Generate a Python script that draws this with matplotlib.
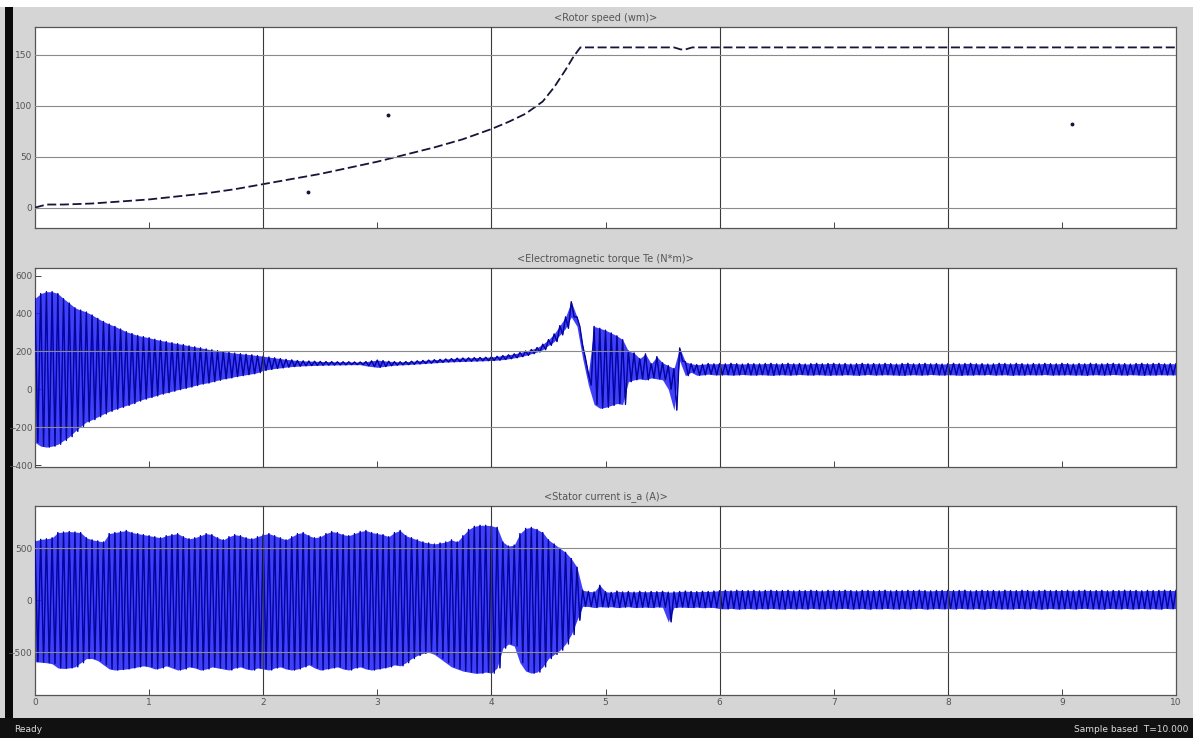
import numpy as np
import matplotlib
matplotlib.use("Agg")
import matplotlib.pyplot as plt
from matplotlib.patches import Rectangle

# ---------------- data ----------------
# Rotor speed wm (rad/s)
speed_t = [0.0, 0.1, 0.25, 0.5, 0.75, 1.0, 1.25, 1.5, 1.75, 2.0, 2.25, 2.5, 2.75,
           3.0, 3.25, 3.5, 3.75, 4.0, 4.15, 4.3, 4.45, 4.55, 4.65, 4.72, 4.78,
           5.6, 5.66, 5.7, 5.76, 6.0, 8.0, 10.0]
speed_v = [0, 3, 3, 4, 6, 8, 11, 14, 18, 23, 28, 33, 39,
           45, 52, 59, 67, 77, 84, 92, 104, 118, 135, 148, 157,
           157, 155, 155, 157, 157, 157, 157]
speed_dots_t = [2.39, 3.09, 9.09]
speed_dots_v = [15, 91, 82]

# sample instants at which the oscillation peaks were read (s)
peak_t = np.linspace(0.0, 10.0, 201)

# Electromagnetic torque Te (N*m): upper / lower peaks
torque_hi = [
    480, 505, 515, 515, 505, 478, 455, 430, 418, 408, 392, 374, 358, 344, 332, 318, 304, 294, 284, 278,
    272, 264, 258, 252, 246, 241, 236, 229, 224, 219, 213, 208, 204, 199, 195, 191, 188, 185, 182, 178,
    175, 170, 166, 162, 158, 155, 152, 150, 149, 148, 147, 146, 146, 145, 145, 145, 144, 144, 146, 150,
    154, 151, 148, 146, 145, 146, 148, 150, 152, 154, 156, 158, 160, 162, 164, 165, 166, 167, 168, 169,
    171, 174, 178, 182, 187, 194, 202, 210, 220, 238, 262, 292, 336, 382, 462, 382, 232, 82, 332, 322,
    312, 297, 282, 262, 202, 192, 162, 187, 135, 172, 140, 125, 110, 218, 145, 135, 130, 132, 136, 134,
    136, 134, 137, 135, 133, 136, 135, 134, 136, 137, 134, 135, 137, 134, 136, 133, 135, 137, 134, 136,
    137, 134, 136, 133, 135, 137, 134, 136, 134, 137, 135, 133, 136, 137, 134, 135, 137, 134, 136, 133,
    135, 137, 134, 136, 137, 134, 135, 133, 134, 137, 136, 134, 137, 135, 133, 136, 134, 137, 135, 134,
    137, 135, 133, 136, 134, 137, 135, 134, 136, 137, 134, 135, 133, 136, 137, 134, 136, 137, 134, 135,
    135]
torque_lo = [
    -280, -300, -305, -300, -290, -270, -250, -222, -196, -172, -160, -145, -130, -116, -105, -95, -85, -75, -62, -52,
    -43, -35, -25, -18, -10, -2, 5, 12, 20, 28, 33, 40, 48, 55, 60, 67, 72, 77, 82, 88,
    100, 105, 110, 113, 117, 120, 122, 124, 125, 126, 127, 128, 128, 129, 129, 130, 130, 130, 124, 120,
    116, 120, 124, 127, 129, 130, 132, 134, 136, 138, 140, 142, 144, 145, 146, 147, 148, 149, 150, 151,
    152, 154, 157, 161, 166, 172, 179, 188, 197, 209, 232, 252, 287, 322, 382, 332, 162, 22, -80, -100,
    -95, -85, -75, -80, 40, 50, 55, 50, 60, 55, 50, 0, -110, 150, 72, 90, 74, 76, 80, 76,
    76, 77, 75, 76, 78, 76, 75, 77, 76, 74, 76, 77, 75, 76, 78, 76, 75, 77, 76, 74,
    76, 75, 77, 76, 74, 76, 78, 75, 76, 77, 76, 75, 74, 76, 77, 75, 76, 78, 76, 75,
    77, 76, 74, 76, 75, 77, 76, 78, 75, 76, 77, 74, 76, 75, 77, 76, 76, 78, 75, 76,
    76, 77, 75, 76, 74, 76, 77, 75, 76, 78, 76, 75, 77, 76, 74, 76, 75, 77, 76, 76,
    76]

# Stator current is_a (A): upper / lower peaks
current_hi = [
    570, 585, 590, 600, 650, 655, 660, 655, 650, 600, 580, 570, 560, 640, 650, 660, 670, 650, 640, 630,
    620, 610, 600, 620, 630, 640, 610, 590, 600, 620, 640, 630, 600, 580, 610, 630, 620, 600, 590, 610,
    630, 640, 620, 600, 580, 610, 640, 650, 620, 600, 610, 640, 660, 650, 630, 620, 640, 660, 670, 650,
    640, 630, 610, 650, 670, 620, 600, 580, 560, 550, 540, 550, 560, 580, 560, 620, 680, 710, 720, 720,
    715, 700, 560, 520, 530, 640, 690, 700, 680, 650, 580, 540, 500, 460, 400, 317, 96, 85, 80, 144,
    82, 76, 88, 80, 84, 78, 86, 80, 84, 82, 86, 78, 80, 84, 88, 84, 82, 86, 84, 88,
    92, 95, 90, 96, 93, 92, 95, 90, 94, 96, 92, 93, 95, 90, 94, 92, 96, 93, 90, 95,
    94, 92, 96, 93, 90, 95, 94, 92, 93, 96, 90, 94, 92, 95, 93, 96, 92, 90, 94, 93,
    95, 92, 94, 96, 90, 93, 95, 92, 94, 90, 96, 93, 92, 95, 94, 90, 93, 96, 92, 94,
    93, 95, 90, 94, 96, 92, 93, 95, 90, 94, 92, 96, 93, 94, 90, 95, 92, 94, 96, 93,
    94]
current_lo = [
    -590, -595, -600, -610, -650, -655, -650, -640, -600, -560, -560, -580, -620, -660, -670, -665, -660, -650, -640, -630,
    -640, -660, -650, -630, -650, -670, -660, -640, -650, -670, -660, -640, -650, -660, -670, -650, -640, -660, -670, -650,
    -660, -670, -650, -640, -660, -670, -660, -640, -620, -650, -670, -660, -650, -640, -660, -670, -650, -640, -660, -670,
    -660, -650, -640, -620, -630, -600, -560, -530, -510, -500, -520, -560, -600, -640, -660, -680, -690, -700, -700, -690,
    -700, -650, -460, -420, -440, -600, -680, -700, -690, -640, -560, -520, -480, -420, -330, -192, -58, -60, -70, -62,
    -66, -62, -70, -66, -62, -70, -68, -66, -70, -64, -68, -208, -70, -66, -68, -70, -66, -72, -68, -70,
    -80, -83, -78, -85, -82, -79, -84, -80, -83, -78, -82, -85, -79, -83, -80, -84, -78, -82, -83, -79,
    -83, -80, -78, -84, -82, -79, -85, -80, -83, -78, -82, -84, -79, -83, -80, -78, -85, -82, -79, -83,
    -80, -84, -78, -82, -83, -79, -85, -80, -78, -83, -82, -84, -79, -80, -83, -78, -85, -82, -79, -83,
    -82, -79, -84, -80, -78, -83, -82, -85, -79, -80, -83, -78, -84, -82, -79, -83, -80, -85, -78, -82,
    -80]

titles = ["<Rotor speed (wm)>", "<Electromagnetic torque Te (N*m)>", "<Stator current is_a (A)>"]
x_ticks = list(range(0, 11))
speed_ticks = [0, 50, 100, 150]
torque_ticks = [-400, -200, 0, 200, 400, 600]
current_ticks = [-500, 0, 500]
speed_grid = [0, 50, 100, 150]
torque_grid = [-200, 200]
current_grid = [-500, 500]
x_grid = [2, 4, 6, 8]

# ---------------- figure ----------------
W, H = 1193, 738
fig = plt.figure(figsize=(W / 100, H / 100), dpi=100)
fig.patch.set_facecolor("#d5d5d5")

def fr(x0, y0, x1, y1):
    """pixel box (top-left origin) -> figure fraction rect"""
    return [x0 / W, 1 - y1 / H, (x1 - x0) / W, (y1 - y0) / H]

# white strip at top, black left border, black status bar
fig.add_artist(Rectangle((0, 1 - 7 / H), 1, 7 / H, transform=fig.transFigure,
                         facecolor="white", edgecolor="none", zorder=0))
fig.add_artist(Rectangle((5 / W, 20 / H), 8 / W, 1 - 27 / H, transform=fig.transFigure,
                         facecolor="#0a0a0a", edgecolor="none", zorder=0))
fig.add_artist(Rectangle((0, 0), 1, 20 / H, transform=fig.transFigure,
                         facecolor="#111111", edgecolor="none", zorder=0))
fig.text(14 / W, 8 / H, "Ready", color="#dddddd", fontsize=6.5, va="center")
fig.text(1188 / W, 8 / H, "Sample based  T=10.000", color="#dddddd", fontsize=6.5,
         va="center", ha="right")

boxes = [fr(35, 27, 1176, 228), fr(35, 268, 1176, 467), fr(35, 506, 1176, 695)]
ylims = [(-20, 177), (-410, 640), (-910, 905)]
yticks = [speed_ticks, torque_ticks, current_ticks]
hgrids = [speed_grid, torque_grid, current_grid]

axes = []
for i, box in enumerate(boxes):
    ax = fig.add_axes(box)
    ax.set_facecolor("white")
    ax.set_xlim(0, 10)
    ax.set_ylim(*ylims[i])
    ax.set_xticks(x_ticks)
    ax.set_yticks(yticks[i])
    ax.tick_params(direction="in", length=4, width=0.7, colors="#444444",
                   labelsize=6.5, labelcolor="#555555", pad=2)
    if i < 2:
        ax.tick_params(axis="x", labelbottom=False)
    for s in ax.spines.values():
        s.set_color("#555555")
        s.set_linewidth(0.9)
    for g in x_grid:
        ax.axvline(g, color="#3a3a3a", lw=0.8, zorder=4)
    for g in hgrids[i]:
        ax.axhline(g, color="#8a8a8a", lw=0.8, zorder=4)
    fig.text(box[0] + box[2] / 2, box[1] + box[3] + 9 / H, titles[i],
             ha="center", va="center", fontsize=7, color="#555555")
    axes.append(ax)

# --- rotor speed
ax = axes[0]
ax.plot(speed_t, speed_v, color="#15153a", lw=1.3, ls=(0, (5, 2)), zorder=3)
ax.plot(speed_dots_t, speed_dots_v, ls="none", marker="o", ms=1.8, color="#15153a", zorder=3)

def draw_osc(ax, t, hi, lo):
    t = np.asarray(t)
    hi = np.asarray(hi, float)
    lo = np.asarray(lo, float)
    half = (t[1] - t[0]) / 2
    xs = np.empty(2 * len(t))
    ys = np.empty(2 * len(t))
    xs[0::2] = t
    xs[1::2] = t + half
    ys[0::2] = hi
    ys[1::2] = lo
    m = xs <= 10
    ax.fill_between(t, lo, hi, color="#1e1ef5", alpha=0.85, lw=0, zorder=2)
    ax.plot(xs[m], ys[m], color="#0000d8", lw=1.0, zorder=3)
    ax.plot(xs[m], ys[m], color="#0c0c55", lw=0.4, zorder=3)

draw_osc(axes[1], peak_t, torque_hi, torque_lo)
draw_osc(axes[2], peak_t, current_hi, current_lo)

fig.savefig("out.png", dpi=100, facecolor=fig.get_facecolor())
